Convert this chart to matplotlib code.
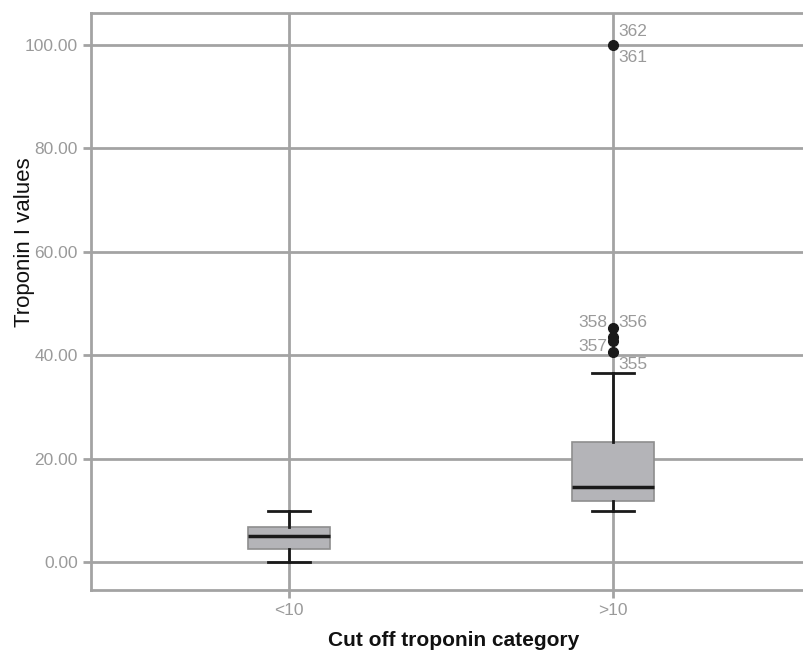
import matplotlib
matplotlib.use('Agg')
import matplotlib.pyplot as plt

plt.rcParams['font.family'] = ['Liberation Sans', 'DejaVu Sans']

categories = ['<10', '>10']
whislo = [0.0, 9.8]
q1 = [2.5, 11.8]
med = [5.1, 14.6]
q3 = [6.8, 23.2]
whishi = [9.8, 36.6]
fliers = [[], [100.0, 45.3, 43.6, 42.7, 40.6]]
# outlier case labels: (category index, value, text, side)
flier_labels = [(1, 100.0, '362', 'up'), (1, 100.0, '361', 'down'),
                (1, 45.3, '358', 'left'), (1, 45.3, '356', 'right'),
                (1, 40.6, '357', 'left'), (1, 40.6, '355', 'rightdown')]

grid_c = '#a3a3a3'
tick_c = '#9a9a9a'

fig = plt.figure(figsize=(8.04, 6.56), dpi=100)
ax = fig.add_axes([91/804, 1-590/656, 713/804, 577/656])

stats = []
for i in range(len(categories)):
    stats.append(dict(med=med[i], q1=q1[i], q3=q3[i], whislo=whislo[i],
                      whishi=whishi[i], fliers=fliers[i], label=categories[i]))

for y in [0, 20, 40, 60, 80, 100]:
    ax.axhline(y, color=grid_c, lw=2, zorder=0)
for x in range(len(categories)):
    ax.axvline(x, color=grid_c, lw=2, zorder=0)

ax.bxp(stats, positions=range(len(categories)), widths=0.255, patch_artist=True,
       boxprops=dict(facecolor='#b4b4b8', edgecolor='#8e8e8e', lw=1.2),
       medianprops=dict(color='#1a1a1a', lw=2.5),
       whiskerprops=dict(color='#1a1a1a', lw=2),
       capprops=dict(color='#1a1a1a', lw=2), capwidths=0.13,
       flierprops=dict(marker='o', markerfacecolor='#1a1a1a', markeredgecolor='#1a1a1a',
                       markersize=7))

offsets = {'up': (4, 10, 'left'), 'down': (4, -9, 'left'), 'left': (-4, 4, 'right'),
           'right': (4, 4, 'left'), 'rightdown': (4, -9, 'left')}
for ci, v, txt, side in flier_labels:
    dx, dy, ha = offsets[side]
    ax.annotate(txt, (ci, v), xytext=(dx, dy), textcoords='offset points',
                color=tick_c, fontsize=12.5, va='center', ha=ha)

ax.set_xlim(-0.611, 1.59)
ax.set_ylim(-5.4, 106.2)
ax.set_yticks([0, 20, 40, 60, 80, 100])
ax.set_yticklabels(['%.2f' % t for t in [0, 20, 40, 60, 80, 100]])
ax.set_xticks(range(len(categories)))
ax.set_xticklabels(categories)
ax.tick_params(axis='both', colors=grid_c, labelcolor=tick_c, labelsize=12.5, width=2, length=6)
for s in ['left', 'bottom', 'top']:
    ax.spines[s].set_color(grid_c)
    ax.spines[s].set_linewidth(2)
ax.spines['right'].set_visible(False)

fig.text(454/804, 1-641/656, 'Cut off troponin category', fontsize=15, fontweight='bold',
         ha='center', va='center', color='#111111')
fig.text(25/804, 1-242/656, 'Troponin I values', fontsize=16, rotation=90,
         ha='center', va='center', color='#111111')

fig.savefig('out.png', dpi=100)
